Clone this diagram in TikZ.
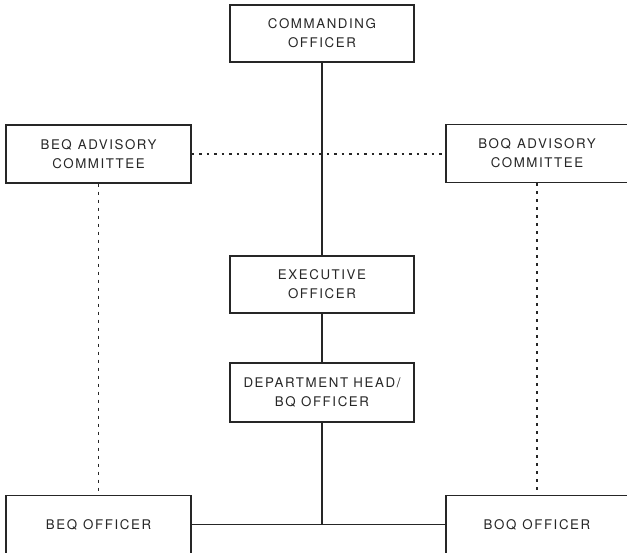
\documentclass[tikz,border=0pt]{standalone}
\usepackage{fontspec}
\setmainfont[LetterSpace=12]{TeX Gyre Heros}
\begin{document}
\begin{tikzpicture}[x=1pt,y=-1pt,
  box/.style={draw=black!85,line width=1.1pt,rectangle,inner sep=0pt,align=center,
    font=\fontsize{13.3}{19}\selectfont,text=black!85},
  solidline/.style={draw=black!85,line width=1.1pt},
  dotline/.style={draw=black!85,line width=1.2pt,dash pattern=on 2.5pt off 5pt},
  dashline/.style={draw=black!85,line width=1.2pt,dash pattern=on 3pt off 5pt}]
\useasboundingbox (0,0) rectangle (627,552);
\clip (0,0) rectangle (627,552);
\node[box,minimum width=184pt,minimum height=57pt] (co) at (322,33.5) {COMMANDING\\OFFICER};
\node[box,minimum width=185pt,minimum height=58pt] (beqadv) at (98.5,154) {BEQ\hspace{0.45em}ADVISORY\\COMMITTEE};
\node[box,minimum width=182pt,minimum height=58pt] (boqadv) at (537,153.5) {BOQ\hspace{0.45em}ADVISORY\\COMMITTEE};
\node[box,minimum width=184pt,minimum height=57pt] (exec) at (322,284.5) {EXECUTIVE\\OFFICER};
\node[box,minimum width=184pt,minimum height=59pt] (dept) at (322,392.5) {DEPARTMENT HEAD/\\BQ OFFICER};
\node[box,minimum width=185pt,minimum height=58pt] (beqoff) at (98.5,524.5) {BEQ\hspace{0.45em}OFFICER};
\node[box,minimum width=182pt,minimum height=58pt] (boqoff) at (537,524.5) {BOQ\hspace{0.45em}OFFICER};
\coordinate (junc) at (322,524.5);
\draw[solidline] (co.south) -- (exec.north);
\draw[solidline] (exec.south) -- (dept.north);
\draw[solidline] (dept.south) -- (junc);
\draw[solidline] (beqoff.east) -- (boqoff.west);
\draw[dotline] (beqadv.east) -- (boqadv.west |- beqadv.east);
\draw[dashline] (beqadv.south) -- (beqoff.north);
\draw[dashline] (boqadv.south) -- (boqoff.north);
\end{tikzpicture}
\end{document}
